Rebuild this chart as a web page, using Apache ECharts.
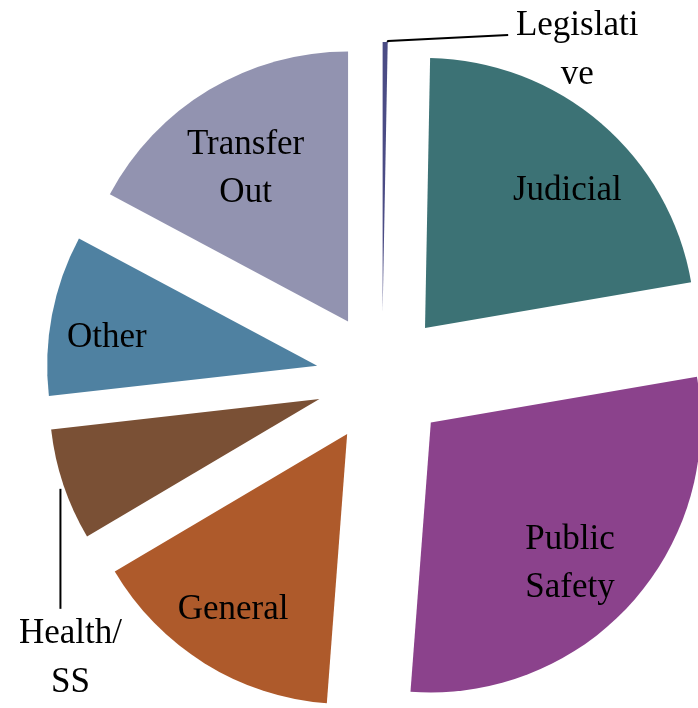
<!DOCTYPE html>
<html>
<head>
<meta charset="utf-8">
<script src="https://cdn.jsdelivr.net/npm/echarts@6/dist/echarts.min.js"></script>
<style>
  html, body { margin: 0; padding: 0; background: #fff; }
  #main { width: 698px; height: 708px; }
</style>
</head>
<body>
<div id="main"></div>
<script>
var categories = ['Legislative', 'Judicial', 'Public Safety', 'General', 'Health/SS', 'Other', 'Transfer Out'];
var labelTexts = ['Legislati\nve', 'Judicial', 'Public\nSafety', 'General', 'Health/\nSS', 'Other', 'Transfer\nOut'];
var values = [0.3, 22.0, 28.9, 15.3, 6.7, 9.6, 17.2];
var colors = ['#4b4c85', '#3c7275', '#8b428c', '#ae5a2b', '#7a5035', '#4f81a1', '#9293b0'];
var outsideLabels = ['Legislative', 'Health/SS'];

var FONT = '"Liberation Serif", "DejaVu Serif", serif';
var CENTER = [382, 378];
var RADIUS = 270;
var OFFSET = 66;

// small nudges so the inside labels sit where Excel's "best fit" put them
var insideNudge = {
    'Judicial': [10, 17],
    'Public Safety': [-11, 5],
    'General': [-7, 3],
    'Other': [-11, 10],
    'Transfer Out': [2, 21]
};

var myChart = echarts.init(document.getElementById('main'));

var sliceData = categories.map(function (name, i) {
    var outside = outsideLabels.indexOf(name) >= 0;
    return {
        name: name,
        value: values[i],
        selected: true,
        itemStyle: { color: colors[i] },
        label: { show: outside, position: 'outside' },
        labelLine: { show: outside }
    };
});

// transparent copy, only used to carry the inside labels further out
var labelData = categories.map(function (name, i) {
    var outside = outsideLabels.indexOf(name) >= 0;
    return {
        name: name,
        value: values[i],
        selected: true,
        label: { show: !outside }
    };
});

var option = {
    animation: false,
    backgroundColor: '#fff',
    series: [
        {
            name: 'slices',
            type: 'pie',
            center: CENTER,
            radius: [0, RADIUS],
            startAngle: 90,
            clockwise: true,
            selectedMode: 'multiple',
            selectedOffset: OFFSET,
            avoidLabelOverlap: false,
            emphasis: { disabled: true },
            data: sliceData,
            label: {
                formatter: function (p) {
                    return labelTexts[p.dataIndex].split('\n').map(function (s) {
                        return '{c|' + s + '}';
                    }).join('\n');
                },
                rich: {
                    c: {
                        width: 130,
                        align: 'center',
                        fontFamily: FONT,
                        fontSize: 35,
                        lineHeight: 49,
                        color: '#000'
                    }
                }
            },
            labelLine: {
                lineStyle: { color: '#000', width: 2 }
            },
            labelLayout: function (params) {
                var pts = params.labelLinePoints;
                var r = params.labelRect;
                if (!pts || !r) return {};
                var p0 = pts[0];
                if (categories[params.dataIndex] === 'Legislative') {
                    return {
                        dx: (p0[0] + 192) - (r.x + r.width / 2),
                        dy: (p0[1] - 34) - r.y,
                        labelLinePoints: [
                            [p0[0] + 2, p0[1]],
                            [p0[0] + 3, p0[1] - 1],
                            [p0[0] + 123, p0[1] - 7]
                        ]
                    };
                }
                return {
                    dx: (p0[0] + 7) - (r.x + r.width / 2),
                    dy: (p0[1] + 131) - r.y,
                    labelLinePoints: [
                        [p0[0] - 3, p0[1] + 4],
                        [p0[0] - 3, p0[1] + 64],
                        [p0[0] - 3, p0[1] + 124]
                    ]
                };
            }
        },
        {
            name: 'labels',
            type: 'pie',
            silent: true,
            center: CENTER,
            radius: [130, RADIUS],
            startAngle: 90,
            clockwise: true,
            selectedMode: 'multiple',
            selectedOffset: OFFSET,
            avoidLabelOverlap: false,
            emphasis: { disabled: true },
            itemStyle: { color: 'rgba(0,0,0,0)' },
            labelLine: { show: false },
            data: labelData,
            label: {
                position: 'inside',
                formatter: function (p) { return labelTexts[p.dataIndex]; },
                fontFamily: FONT,
                fontSize: 35,
                lineHeight: 48,
                color: '#000'
            },
            labelLayout: function (params) {
                var n = insideNudge[categories[params.dataIndex]];
                return n ? { dx: n[0], dy: n[1] } : {};
            }
        }
    ]
};

myChart.setOption(option);
</script>
</body>
</html>
